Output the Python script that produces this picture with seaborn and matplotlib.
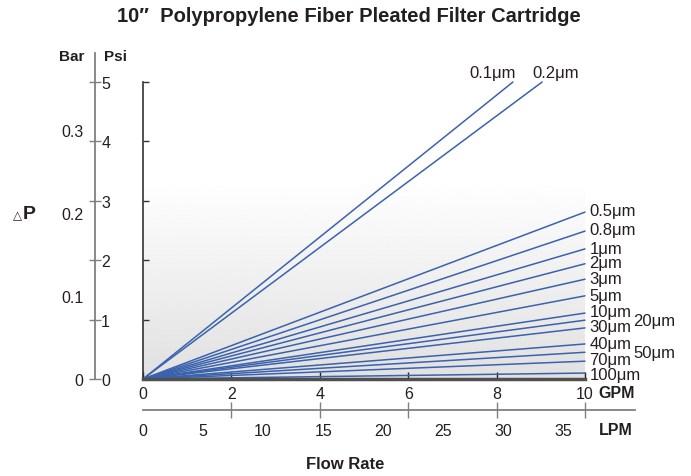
import numpy as np
import matplotlib
matplotlib.use('Agg')
import matplotlib.pyplot as plt
import seaborn as sns

sns.set_theme(style='white')
plt.rcParams['font.family'] = ['Liberation Sans', 'DejaVu Sans']

# Data: end points of each straight pressure-drop line
grades = ['0.1μm', '0.2μm', '0.5μm', '0.8μm', '1μm', '2μm', '3μm', '5μm',
          '10μm', '20μm', '30μm', '40μm', '50μm', '70μm', '100μm']
end_gpm = [8.37, 9.03, 10, 10, 10, 10, 10, 10, 10, 10, 10, 10, 10, 10, 10]
end_psi = [5.0, 5.0, 2.81, 2.49, 2.19, 1.94, 1.68, 1.40, 1.11, 0.99, 0.86, 0.59, 0.45, 0.30, 0.10]

gpm_ticks = [0, 2, 4, 6, 8, 10]
lpm_ticks = [0, 5, 10, 15, 20, 25, 30, 35]
psi_ticks = [0, 1, 2, 3, 4, 5]
bar_ticks = [0, 0.1, 0.2, 0.3]
LPM_PER_GPM = 3.68
PSI_PER_BAR = 14.0

line_color = '#3b62ad'
text_color = '#231f20'
W, H = 691, 477

fig = plt.figure(figsize=(W / 100, H / 100), dpi=100)


def fx(px):
    return px / W


def fy(py):
    return 1 - py / H


# main plot area
x0, x1, y0, y1 = 143, 585, 380, 83
ax = fig.add_axes([fx(x0), fy(y0), fx(x1 - x0), (y0 - y1) / H])
ax.set_xlim(0, 10)
ax.set_ylim(0, 5)

# grey gradient background
grad = np.linspace(0.88, 1.0, 256).reshape(-1, 1)
ax.imshow(grad, extent=[0, 10, 0, 3.4], origin='lower', aspect='auto',
          cmap='gray', vmin=0, vmax=1, zorder=0)

for name, gx, py in zip(grades, end_gpm, end_psi):
    sns.lineplot(x=[0, gx], y=[0, py], ax=ax, color=line_color, lw=1.1,
                 zorder=2, clip_on=False)

# labels for lines
label_style = dict(fontsize=12, color=text_color, clip_on=False)
ax.text(8.37 - 0.45, 5.03, '0.1μm', ha='center', va='bottom', **label_style)
ax.text(9.03 + 0.3, 5.03, '0.2μm', ha='center', va='bottom', **label_style)
label_y = {'0.5μm': 2.84, '0.8μm': 2.51, '1μm': 2.19, '2μm': 1.96, '3μm': 1.70,
           '5μm': 1.41, '10μm': 1.13, '30μm': 0.89, '40μm': 0.59, '70μm': 0.32,
           '100μm': 0.07}
for name, yy in label_y.items():
    ax.text(10.1, yy, name, ha='left', va='center', **label_style)
ax.text(11.1, 0.98, '20μm', ha='left', va='center', **label_style)
ax.text(11.1, 0.45, '50μm', ha='left', va='center', **label_style)

for side in ['top', 'right']:
    ax.spines[side].set_visible(False)
ax.spines['left'].set_color('#333333')
ax.spines['left'].set_linewidth(1.2)
ax.spines['bottom'].set_color('#505050')
ax.spines['bottom'].set_linewidth(2.5)
ax.set_xticks(gpm_ticks)
ax.set_yticks(psi_ticks)
ax.set_yticklabels([])
ax.tick_params(axis='x', direction='in', length=5, width=1, colors='#222222',
               labelsize=11.5, labelcolor=text_color, pad=5, bottom=True)
ax.tick_params(axis='y', direction='in', length=4, width=1, colors='#333333', left=True)
ax.text(10.3, -0.22, 'GPM', ha='left', va='center', fontsize=11.5,
        fontweight='bold', color=text_color, clip_on=False)

# Psi / Bar scale
ps_top = 54
ax2 = fig.add_axes([fx(95) - 0.01, fy(y0), 0.01, (y0 - ps_top) / H])
ax2.set_ylim(0, (y0 - ps_top) / 59.4)
ax2.patch.set_visible(False)
for side in ['top', 'left', 'bottom']:
    ax2.spines[side].set_visible(False)
ax2.spines['right'].set_color('#808080')
ax2.spines['right'].set_linewidth(1.3)
ax2.set_xticks([])
ax2.yaxis.tick_right()
ax2.set_yticks(psi_ticks)
ax2.tick_params(axis='y', direction='inout', length=9, width=1, colors='#808080',
                labelsize=11.5, labelcolor=text_color, pad=0, right=True)
sec = ax2.secondary_yaxis('left', functions=(lambda p: p / PSI_PER_BAR,
                                             lambda b: b * PSI_PER_BAR))
sec.set_yticks(bar_ticks)
sec.set_yticklabels(['0', '0.1', '0.2', '0.3'])
sec.tick_params(length=0, labelsize=11.5, labelcolor=text_color, pad=3.5)
sec.spines['left'].set_visible(False)

fig.text(fx(84), fy(57), 'Bar', ha='right', va='center', fontsize=11,
         fontweight='bold', color=text_color)
fig.text(fx(104), fy(57), 'Psi', ha='left', va='center', fontsize=11,
         fontweight='bold', color=text_color)
fig.text(fx(13), fy(216), '△', ha='left', va='center', fontsize=8.5, color=text_color,
         family=['DejaVu Sans'])
fig.text(fx(23), fy(215), 'P', ha='left', va='center', fontsize=14,
         fontweight='bold', color=text_color)

# LPM scale
ax3 = fig.add_axes([fx(x0), fy(411), fx(635 - x0), 0.001])
ax3.set_xlim(0, (635 - x0) / 44.2)
ax3.patch.set_visible(False)
for side in ['top', 'left', 'right']:
    ax3.spines[side].set_visible(False)
ax3.spines['bottom'].set_color('#808080')
ax3.spines['bottom'].set_linewidth(1.3)
ax3.set_yticks([])
ax3.set_xticks([v / LPM_PER_GPM for v in lpm_ticks])
ax3.set_xticklabels([str(v) for v in lpm_ticks])
ax3.set_xticks(gpm_ticks, minor=True)
ax3.tick_params(axis='x', which='major', length=0, labelsize=11.5,
                labelcolor=text_color, pad=9)
ax3.tick_params(axis='x', which='minor', direction='inout', length=12, width=1,
                colors='#808080', bottom=True)
fig.text(fx(599), fy(431), 'LPM', ha='left', va='center', fontsize=11.5,
         fontweight='bold', color=text_color)

fig.text(fx(345), fy(465), 'Flow Rate', ha='center', va='center', fontsize=12,
         fontweight='bold', color=text_color)
fig.text(fx(349), fy(17), '10″  Polypropylene Fiber Pleated Filter Cartridge',
         ha='center', va='center', fontsize=14.5, fontweight='bold', color=text_color)

fig.savefig('out.png', dpi=100)
